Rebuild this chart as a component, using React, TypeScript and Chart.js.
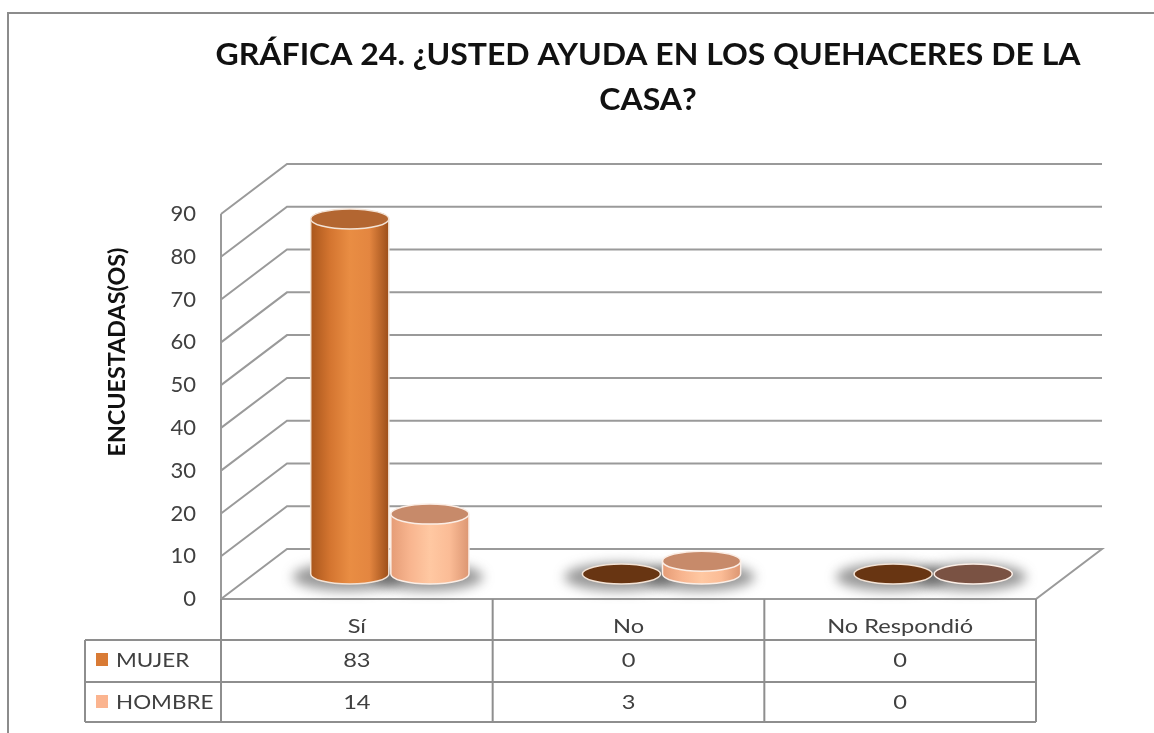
import React, { useEffect, useRef } from "react";
import { Chart, registerables } from "chart.js";

Chart.register(...registerables);

// ---------- DATA ----------
const categories = ["Sí", "No", "No Respondió"];
const seriesNames = ["MUJER", "HOMBRE"];
const mujerValues = [83, 0, 0];
const hombreValues = [14, 3, 0];
const yMin = 0;
const yMax = 90;
const yStep = 10;
const titleLines = ["GRÁFICA 24. ¿USTED AYUDA EN LOS QUEHACERES DE LA", "CASA?"];
const yAxisTitle = "ENCUESTADAS(OS)";

// ---------- STYLE ----------
const DX = 66;
const DY = -50;
const FONT = "Lato, 'Open Sans', sans-serif";
const GRID = "#9a9a9a";
const TEXT = "#404040";

const seriesStyle = [
  {
    legend: "#d97b35",
    stops: ["#a9561c", "#d47530", "#e98d43", "#e48640", "#9c4e19"],
    top: "#b36631",
    zero: "#683512",
    edge: "#f3e3d6",
  },
  {
    legend: "#fbb48f",
    stops: ["#e59c76", "#f8b58f", "#ffc8a2", "#fbbc96", "#dc9672"],
    top: "#c78a6a",
    zero: "#7a5243",
    edge: "#fbeee6",
  },
];

function drawScaled(
  ctx: CanvasRenderingContext2D,
  text: string,
  x: number,
  y: number,
  font: string,
  color: string,
  align: CanvasTextAlign,
  sx: number,
  rot = 0,
  baseline: CanvasTextBaseline = "alphabetic"
) {
  ctx.save();
  ctx.font = font;
  ctx.fillStyle = color;
  ctx.textAlign = align;
  ctx.textBaseline = baseline;
  ctx.translate(x, y);
  if (rot) ctx.rotate(rot);
  ctx.scale(sx, 1);
  ctx.fillText(text, 0, 0);
  ctx.restore();
}

const threeDPlugin = {
  id: "threeD",
  beforeDraw(chart: any) {
    const ctx: CanvasRenderingContext2D = chart.ctx;
    ctx.save();
    ctx.strokeStyle = "#8c8c8c";
    ctx.lineWidth = 2;
    ctx.beginPath();
    ctx.moveTo(8, 733);
    ctx.lineTo(8, 13);
    ctx.lineTo(1154, 13);
    ctx.stroke();
    ctx.restore();
  },
  beforeDatasetsDraw(chart: any) {
    const ctx: CanvasRenderingContext2D = chart.ctx;
    const { left, right, top, bottom } = chart.chartArea;
    const ys = chart.scales.y;
    ctx.save();
    ctx.strokeStyle = GRID;
    ctx.lineWidth = 2;
    ctx.lineJoin = "miter";
    for (const t of ys.ticks) {
      const yf = ys.getPixelForValue(t.value);
      ctx.beginPath();
      ctx.moveTo(left, yf);
      ctx.lineTo(left + DX, yf + DY);
      ctx.lineTo(right + DX, yf + DY);
      if (t.value === yMin) {
        ctx.lineTo(right, yf);
        ctx.lineTo(left, yf);
      }
      ctx.stroke();
    }
    ctx.beginPath();
    ctx.moveTo(left, top);
    ctx.lineTo(left, bottom);
    ctx.stroke();
    ctx.restore();
  },
  afterDatasetsDraw(chart: any) {
    const ctx: CanvasRenderingContext2D = chart.ctx;
    const ry = 10;
    const items: any[] = [];
    chart.data.datasets.forEach((ds: any, di: number) => {
      const meta = chart.getDatasetMeta(di);
      meta.data.forEach((el: any, j: number) => {
        const p = el.getProps(["x", "y", "base", "width"], true);
        items.push({
          cx: p.x + DX / 2,
          yt: p.y + DY / 2,
          yb: p.base + DY / 2,
          rx: p.width / 2 - 1,
          di,
          j,
          zero: ds.data[j] === 0,
        });
      });
    });
    // shadows
    for (const it of items) {
      ctx.save();
      ctx.filter = "blur(6px)";
      ctx.fillStyle = "rgba(70,70,70,0.55)";
      ctx.beginPath();
      ctx.ellipse(it.cx - 2, it.yb + 3, it.rx + 16, ry + 4, 0, 0, Math.PI * 2);
      ctx.fill();
      ctx.restore();
    }
    items.sort((a, b) => a.j - b.j || a.di - b.di);
    for (const it of items) {
      const st = seriesStyle[it.di];
      const { cx, yt, yb, rx } = it;
      ctx.save();
      if (!it.zero) {
        const g = ctx.createLinearGradient(cx - rx, 0, cx + rx, 0);
        const n = st.stops.length;
        st.stops.forEach((c, k) => g.addColorStop(k / (n - 1), c));
        ctx.beginPath();
        ctx.moveTo(cx - rx, yt);
        ctx.lineTo(cx - rx, yb);
        ctx.ellipse(cx, yb, rx, ry, 0, Math.PI, 0, true);
        ctx.lineTo(cx + rx, yt);
        ctx.closePath();
        ctx.fillStyle = g;
        ctx.fill();
        ctx.strokeStyle = st.edge;
        ctx.lineWidth = 1.5;
        ctx.beginPath();
        ctx.moveTo(cx - rx, yt);
        ctx.lineTo(cx - rx, yb);
        ctx.ellipse(cx, yb, rx, ry, 0, Math.PI, 0, true);
        ctx.lineTo(cx + rx, yt);
        ctx.stroke();
      }
      ctx.beginPath();
      ctx.ellipse(cx, yt, rx, ry, 0, 0, Math.PI * 2);
      ctx.fillStyle = it.zero ? st.zero : st.top;
      ctx.fill();
      ctx.strokeStyle = st.edge;
      ctx.lineWidth = 1.5;
      ctx.stroke();
      ctx.restore();
    }
  },
  afterDraw(chart: any) {
    const ctx: CanvasRenderingContext2D = chart.ctx;
    const { left, right, bottom } = chart.chartArea;
    const xs = chart.scales.x;
    const n = categories.length;
    const cw = (right - left) / n;
    const tableLeft = 85;
    const r1 = 640;
    const r2 = 682;
    const r3 = 722;

    // table grid
    ctx.save();
    ctx.strokeStyle = "#8e8e8e";
    ctx.lineWidth = 2;
    ctx.beginPath();
    for (let k = 0; k <= n; k++) {
      const x = left + k * cw;
      ctx.moveTo(x, bottom);
      ctx.lineTo(x, r3);
    }
    for (const r of [r1, r2, r3]) {
      ctx.moveTo(tableLeft, r);
      ctx.lineTo(right, r);
    }
    ctx.moveTo(tableLeft, r1);
    ctx.lineTo(tableLeft, r3);
    ctx.stroke();
    ctx.restore();

    // table text
    const tFont = `20px ${FONT}`;
    ctx.save();
    ctx.font = tFont;
    const sx = 146 / ctx.measureText(categories[2]).width;
    ctx.restore();
    categories.forEach((c, i) => {
      drawScaled(ctx, c, xs.getPixelForValue(i), 633, tFont, TEXT, "center", sx);
    });
    const rows = [mujerValues, hombreValues];
    const baselines = [667, 709];
    rows.forEach((vals, ri) => {
      vals.forEach((v, i) => {
        drawScaled(ctx, String(v), xs.getPixelForValue(i), baselines[ri], tFont, TEXT, "center", sx);
      });
      ctx.save();
      ctx.fillStyle = seriesStyle[ri].legend;
      ctx.fillRect(96, baselines[ri] - 14, 12, 13);
      ctx.restore();
      drawScaled(ctx, seriesNames[ri], 116, baselines[ri], tFont, TEXT, "left", sx * 0.95);
    });

    // title
    const tf = `bold 30px ${FONT}`;
    ctx.save();
    ctx.font = tf;
    const tsx = 865 / ctx.measureText(titleLines[0]).width;
    ctx.restore();
    drawScaled(ctx, titleLines[0], 648, 65, tf, "#111", "center", tsx);
    drawScaled(ctx, titleLines[1], 648, 110, tf, "#111", "center", tsx);

    // y axis title
    const yf = `bold 23px ${FONT}`;
    ctx.save();
    ctx.font = yf;
    const ysx = 209 / ctx.measureText(yAxisTitle).width;
    ctx.restore();
    drawScaled(ctx, yAxisTitle, 118, 352, yf, "#111", "center", ysx, -Math.PI / 2, "middle");
  },
};

export default function App() {
  const ref = useRef<HTMLCanvasElement | null>(null);
  useEffect(() => {
    if (!ref.current) return;
    const chart = new Chart(ref.current, {
      type: "bar",
      data: {
        labels: categories,
        datasets: [
          { label: seriesNames[0], data: mujerValues, backgroundColor: "rgba(0,0,0,0)" },
          { label: seriesNames[1], data: hombreValues, backgroundColor: "rgba(0,0,0,0)" },
        ],
      },
      options: {
        responsive: false,
        animation: false,
        events: [],
        layout: { padding: { left: 0, right: 118, top: 214, bottom: 134 } },
        datasets: { bar: { categoryPercentage: 0.59, barPercentage: 1 } },
        plugins: {
          legend: { display: false },
          title: { display: false },
          tooltip: { enabled: false },
        },
        scales: {
          x: { display: false, offset: true },
          y: {
            min: yMin,
            max: yMax,
            ticks: {
              stepSize: yStep,
              padding: 25,
              color: TEXT,
              font: { family: FONT, size: 22 },
            },
            grid: { display: false, drawTicks: false },
            border: { display: false },
            afterFit: (s: any) => {
              s.width = 221;
            },
          },
        },
      } as any,
      plugins: [threeDPlugin],
    });
    return () => chart.destroy();
  }, []);
  return (
    <div style={{ position: "fixed", left: 0, top: 0, width: 1154, height: 733, background: "#fff" }}>
      <canvas ref={ref} width={1154} height={733} style={{ display: "block" }} />
    </div>
  );
}
